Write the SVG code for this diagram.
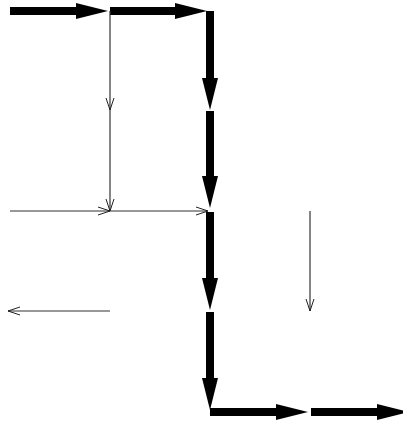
<svg xmlns="http://www.w3.org/2000/svg" width="403" height="424" viewBox="0 0 403 424">
<style>
.thick{stroke:#000;stroke-width:8;fill:none;marker-end:url(#big)}
.thin{stroke:#333;stroke-width:1.2;fill:none;marker-end:url(#open)}
</style>
<defs>
<marker id="big" markerUnits="userSpaceOnUse" markerWidth="33" markerHeight="17" refX="0" refY="8" orient="auto" overflow="visible">
<path d="M0,0 L32,8 L0,16 z" fill="#000"/>
</marker>
<marker id="open" markerUnits="userSpaceOnUse" markerWidth="13" markerHeight="9" refX="12" refY="4" orient="auto" overflow="visible">
<path d="M0,0 L12,4 L0,8" fill="none" stroke="#222" stroke-width="1"/>
</marker>
</defs>
<rect width="403" height="424" fill="#fff"/>
<g id="connectors">
<line class="thick" x1="10" y1="11" x2="76" y2="11"/>
<line class="thick" x1="110" y1="11" x2="175" y2="11"/>
<line class="thick" x1="210" y1="11" x2="210" y2="78"/>
<line class="thick" x1="210" y1="111" x2="210" y2="176"/>
<line class="thick" x1="210" y1="212" x2="210" y2="278"/>
<line class="thick" x1="210" y1="312" x2="210" y2="378"/>
<line class="thick" x1="210" y1="412" x2="276" y2="412"/>
<line class="thick" x1="311" y1="412" x2="377" y2="412"/>
<line class="thin" x1="110" y1="11" x2="110" y2="110"/>
<line class="thin" x1="110" y1="110" x2="110" y2="211"/>
<line class="thin" x1="10" y1="211" x2="110" y2="211"/>
<line class="thin" x1="110" y1="211" x2="208" y2="211"/>
<line class="thin" x1="310" y1="211" x2="310" y2="311"/>
<line class="thin" x1="110" y1="311" x2="8" y2="311"/>
</g>
</svg>
